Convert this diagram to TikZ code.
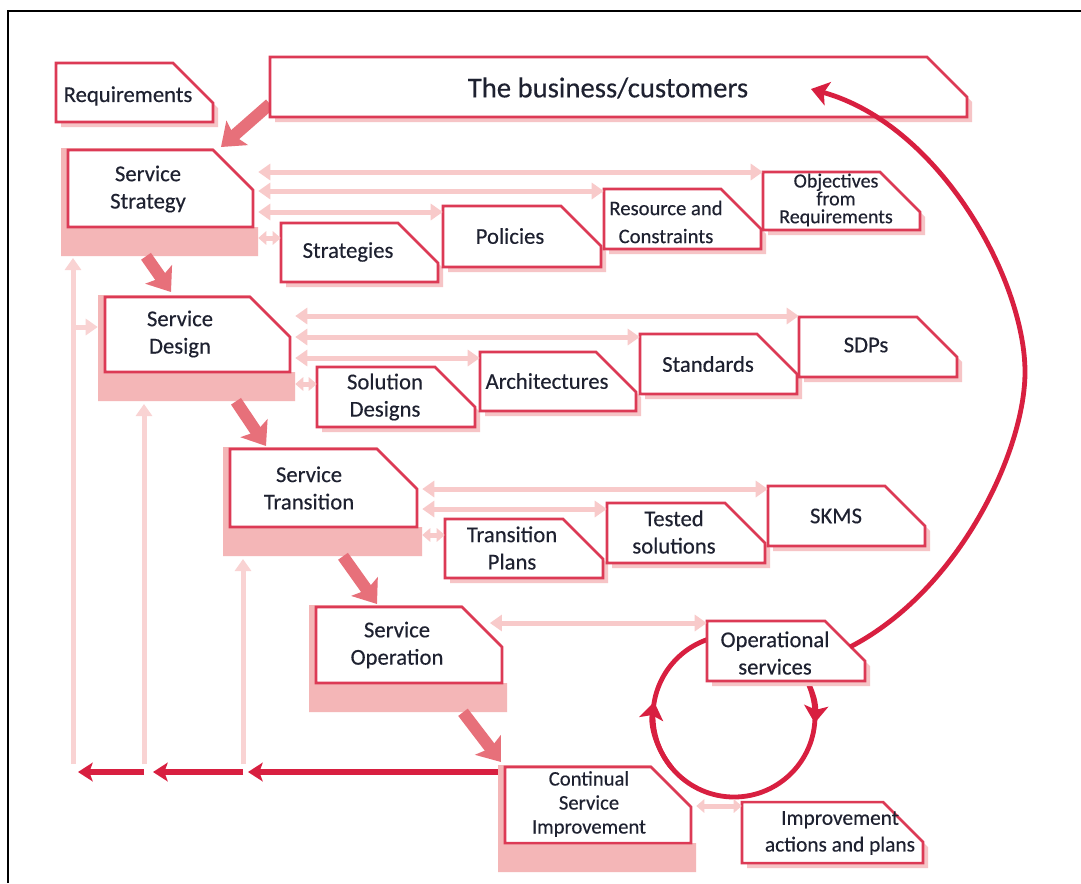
\documentclass[tikz,border=0pt]{standalone}
\usepackage{fontspec}
\setmainfont{Carlito}[FakeBold=0.35]
\usetikzlibrary{arrows.meta,calc}
\definecolor{boxred}{HTML}{DC3A55}
\definecolor{shadowc}{HTML}{F6C4C6}
\definecolor{stagec}{HTML}{F4B6B7}
\definecolor{lightarr}{HTML}{F8CACA}
\definecolor{feedc}{HTML}{F9D3D3}
\definecolor{midred}{HTML}{E7707A}
\definecolor{deepred}{HTML}{D81F40}
\definecolor{txtc}{HTML}{1E2130}
\tikzset{
  frameline/.style={draw=black, line width=1.5pt},
  boxline/.style={draw=boxred, line width=1.9pt, fill=white, line join=miter},
  anchorbox/.style={inner sep=0pt, draw=none},
  txt/.style={text=txtc, font=\fontsize{17}{20.5}\selectfont, align=center, inner sep=0pt},
  dbl/.style={draw=lightarr, line width=3.75pt, {Triangle[width=12pt,length=9pt]}-{Triangle[width=12pt,length=9pt]}},
  sdbl/.style={draw=lightarr, line width=3.75pt, {Triangle[width=10pt,length=6pt]}-{Triangle[width=10pt,length=6pt]}},
  feed/.style={draw=feedc, line width=3.75pt, -{Triangle[width=12pt,length=9pt]}},
  bigarr/.style={draw=midred, line width=9pt, -{Stealth[width=24pt,length=16pt,inset=3pt]}},
  backarr/.style={draw=deepred, line width=4.5pt, -{Stealth[width=14pt,length=11pt,inset=2.5pt]}},
  circ/.style={draw=deepred, line width=3.6pt},
  circtip/.style={circ, -{Stealth[width=18pt,length=13pt,inset=3pt]}},
}
\newcommand{\cbox}[6]{%
  \ifnum#6=1
    \fill[shadowc] ({#2+5},{#3+5}) -- ({#4-35},{#3+5}) -- ({#4+5},{#3+45}) -- ({#4+5},{#5+5}) -- ({#2+5},{#5+5}) -- cycle;
  \fi
  \draw[boxline] (#2,#3) -- ({#4-40},#3) -- (#4,{#3+40}) -- (#4,#5) -- (#2,#5) -- cycle;
  \node[anchorbox, minimum width={(#4-#2)*0.75pt}, minimum height={(#5-#3)*0.75pt}] (#1) at ({(#2+#4)/2},{(#3+#5)/2}) {};
}
\newcommand{\stgbg}[5]{%
  \fill[stagec] ({#2-7},{#3-2}) -- ({#4-40},{#3-2}) -- (#4,{#3+38}) -- (#4,#5) -- ({#4+5},#5) -- ({#4+5},{#5+29}) -- ({#2-7},{#5+29}) -- cycle;
  \node[anchorbox, minimum width={(#4-#2+12)*0.75pt}, minimum height={(#5-#3+31)*0.75pt}] (#1bg) at ({(#2+#4)/2-1},{(#3+#5)/2+13.5}) {};
}
\begin{document}
\begin{tikzpicture}[x=0.75pt,y=-0.75pt]
\useasboundingbox (0,0) rectangle (1081,883);
\fill[white] (0,0) rectangle (1081,883);
\draw[frameline] (8,883) -- (8,11) -- (1081,11);

% stage backgrounds
\stgbg{ss}{68}{150}{253}{227}
\stgbg{sd}{105}{297}{290}{372}
\stgbg{st}{230}{449}{417}{527}
\stgbg{so}{316}{607}{502}{683}
\stgbg{csi}{505}{767}{691}{843}

% named coordinates for free ends
\coordinate (fb1) at (73,764);
\coordinate (fb2) at (144,764);
\coordinate (fb3) at (243,764);
\coordinate (cc) at (734,716);
\coordinate (arcS) at (850,647);
\coordinate (arcE) at (811,89);

% feedback lines
\draw[feed] (fb1) -- (fb1 |- 0,258);
\draw[feed] (fb2) -- (fb2 |- 0,404);
\draw[feed] (fb3) -- (fb3 |- 0,559);
\draw[feed] (fb1 |- 0,327) -- (sdbg.west |- 0,327);

% big diagonal arrows
\coordinate (bizBL) at (270,104);
\draw[bigarr] (bizBL) -- (221,147);
\draw[bigarr] (ssbg.south -| 146,0) -- (171,292);
\draw[bigarr] (sdbg.south -| 236,0) -- (266,446);
\draw[bigarr] (stbg.south -| 343,0) -- (377,604);
\draw[bigarr] (sobg.south -| 463,0) -- (501,762);

% cycle circle
\draw[circ] (cc) circle[radius=81];
\draw[circtip] ($(cc)+(-40:81)$) arc[start angle=-40, end angle=5, radius=81];
\draw[circtip] ($(cc)+(140:81)$) arc[start angle=140, end angle=190, radius=81];

% boxes
\cbox{req}{56}{63}{213}{122}{1}
\cbox{biz}{270}{57}{967}{117}{1}
\cbox{ss}{68}{150}{253}{227}{0}
\cbox{strs}{281}{223}{438}{282}{1}
\cbox{pol}{443}{206}{601}{267}{1}
\cbox{res}{604}{189}{761}{249}{1}
\cbox{obj}{763}{172}{920}{230}{1}
\cbox{sd}{105}{297}{290}{372}{0}
\cbox{sol}{317}{367}{475}{427}{1}
\cbox{arch}{480}{352}{636}{411}{1}
\cbox{std}{640}{334}{797}{394}{1}
\cbox{sdps}{799}{317}{957}{377}{1}
\cbox{st}{230}{449}{417}{527}{0}
\cbox{tpl}{445}{519}{603}{578}{1}
\cbox{tst}{607}{503}{765}{563}{1}
\cbox{skms}{768}{486}{925}{546}{1}
\cbox{so}{316}{607}{502}{683}{0}
\cbox{ops}{707}{621}{865}{681}{1}
\cbox{csi}{505}{767}{691}{843}{0}
\cbox{imp}{742}{802}{923}{863}{1}

% big arc from operational services to the business
\draw[circtip] (arcS) .. controls (960,590) and (1025,450) .. (1025,372) .. controls (1025,280) and (940,125) .. (arcE);

% light double arrows
\draw[dbl] (ssbg.east |- 0,172) -- (obj.west |- 0,172);
\draw[dbl] (ssbg.east |- 0,191) -- (res.west |- 0,191);
\draw[dbl] (ssbg.east |- 0,212) -- (pol.west |- 0,212);
\draw[sdbl] (ssbg.east |- 0,238) -- (strs.west |- 0,238);
\draw[dbl] (sdbg.east |- 0,316) -- (sdps.west |- 0,316);
\draw[dbl] (sdbg.east |- 0,337) -- (std.west |- 0,337);
\draw[dbl] (sdbg.east |- 0,358) -- (arch.west |- 0,358);
\draw[sdbl] (sdbg.east |- 0,384) -- (sol.west |- 0,384);
\draw[dbl] (stbg.east |- 0,489) -- (skms.west |- 0,489);
\draw[dbl] (stbg.east |- 0,509) -- (tst.west |- 0,509);
\draw[sdbl] (stbg.east |- 0,535) -- (tpl.west |- 0,535);
\draw[dbl, shorten <=-13pt] (sobg.east |- 0,623) -- (ops.west |- 0,623);
\draw[sdbl] (csibg.east |- 0,806) -- (imp.west |- 0,806);

% bottom red arrows
\draw[backarr] (csibg.west |- 0,772) -- (248,772);
\draw[backarr] (fb3 |- 0,772) -- (153,772);
\draw[backarr] (fb2 |- 0,772) -- (78,772);

% texts
\node[txt] (req-t) at (128,96) {Requirements};
\node[txt, font=\fontsize{21.5}{24}\selectfont] (biz-t) at (608,88) {The business/customers};
\node[txt] (ss-t) at (148,189) {Service\\Strategy};
\node[txt] (strs-t) at (348,252) {Strategies};
\node[txt] (pol-t) at (510,236) {Policies};
\node[txt, font=\fontsize{15.5}{21}\selectfont] (res-t) at (666,222) {Resource and\\Constraints};
\node[txt, font=\fontsize{15}{13.4}\selectfont] (obj-t) at (836,200) {Objectives\\from\\Requirements};
\node[txt] (sd-t) at (180,334) {Service\\Design};
\node[txt] (sol-t) at (385,397) {Solution\\Designs};
\node[txt] (arch-t) at (547,381) {Architectures};
\node[txt] (std-t) at (708,364) {Standards};
\node[txt] (sdps-t) at (866,345) {SDPs};
\node[txt] (st-t) at (309,488) {Service\\Transition};
\node[txt] (tpl-t) at (512,548) {Transition\\Plans};
\node[txt] (tst-t) at (674,532) {Tested\\solutions};
\node[txt] (skms-t) at (836,516) {SKMS};
\node[txt] (so-t) at (397,645) {Service\\Operation};
\node[txt] (ops-t) at (775,653) {Operational\\services};
\node[txt, font=\fontsize{15.5}{18}\selectfont] (csi-t) at (589,804) {Continual\\Service\\Improvement};
\node[txt, font=\fontsize{16}{20}\selectfont] (imp-t) at (840,833) {Improvement\\actions and plans};
\end{tikzpicture}
\end{document}
